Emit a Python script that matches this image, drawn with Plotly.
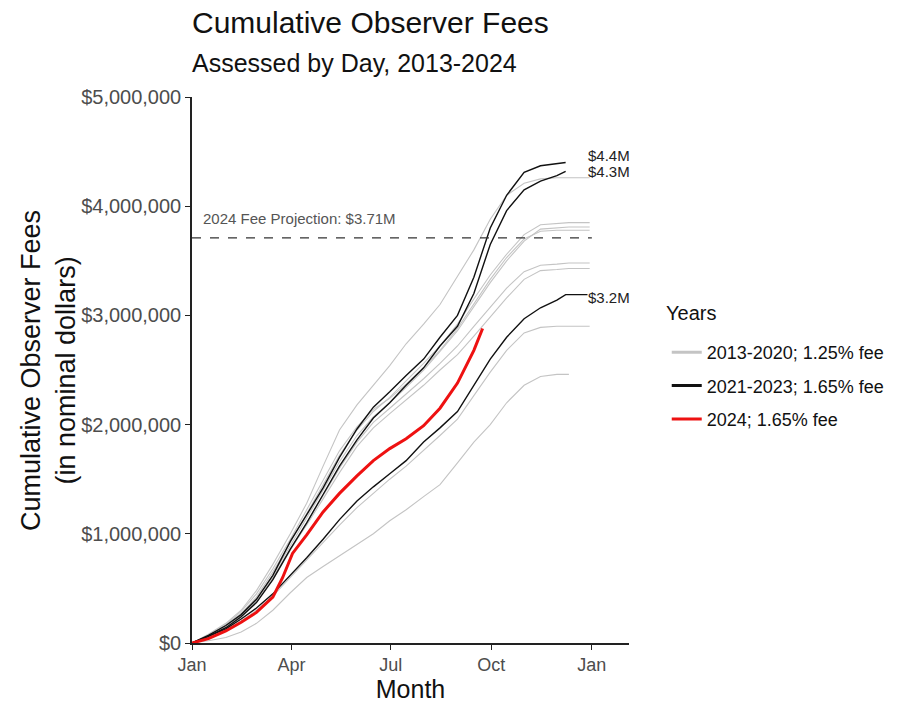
import plotly.graph_objects as go

# Day of year (2024 calendar used as common axis) and cumulative fees (millions of dollars)
days = [0, 15, 31, 45, 59, 74, 90, 105, 120, 135, 151, 166, 181, 196, 212, 227, 243, 258, 273, 288, 304, 319, 334, 345, 364]

gray_series = {
    "g1": [0, 0.08, 0.18, 0.30, 0.48, 0.72, 1.00, 1.28, 1.62, 1.95, 2.18, 2.36, 2.54, 2.74, 2.92, 3.10, 3.36, 3.60, 3.88, 4.10, 4.21, 4.25, 4.26, 4.26, 4.26],
    "g2": [0, 0.07, 0.16, 0.27, 0.42, 0.65, 0.92, 1.18, 1.45, 1.72, 1.95, 2.12, 2.25, 2.40, 2.56, 2.72, 2.92, 3.15, 3.37, 3.56, 3.74, 3.83, 3.84, 3.85, 3.85],
    "g3": [0, 0.06, 0.15, 0.26, 0.40, 0.62, 0.89, 1.14, 1.40, 1.66, 1.90, 2.07, 2.20, 2.34, 2.50, 2.67, 2.86, 3.08, 3.30, 3.50, 3.68, 3.79, 3.80, 3.81, 3.81],
    "g4": [0, 0.05, 0.13, 0.24, 0.38, 0.58, 0.85, 1.10, 1.35, 1.60, 1.84, 2.02, 2.15, 2.28, 2.42, 2.56, 2.72, 2.90, 3.08, 3.25, 3.40, 3.46, 3.47, 3.48, 3.48],
    "g5": [0, 0.06, 0.14, 0.25, 0.39, 0.60, 0.86, 1.08, 1.32, 1.56, 1.80, 1.97, 2.10, 2.23, 2.36, 2.50, 2.64, 2.81, 2.98, 3.16, 3.33, 3.41, 3.42, 3.43, 3.43],
    "g6": [0, 0.05, 0.12, 0.20, 0.30, 0.43, 0.60, 0.76, 0.92, 1.08, 1.24, 1.37, 1.50, 1.62, 1.76, 1.90, 2.05, 2.27, 2.48, 2.68, 2.84, 2.89, 2.90, 2.90, 2.90],
    "g7": [0, 0.02, 0.05, 0.10, 0.18, 0.30, 0.46, 0.60, 0.70, 0.80, 0.90, 1.00, 1.12, 1.22, 1.34, 1.45, 1.65, 1.84, 2.00, 2.20, 2.36, 2.44, 2.46, 2.46, None],
    "g8": [0, 0.07, 0.17, 0.29, 0.45, 0.68, 0.95, 1.22, 1.50, 1.76, 1.98, 2.14, 2.24, 2.37, 2.52, 2.68, 2.88, 3.10, 3.33, 3.53, 3.70, 3.77, 3.78, 3.78, 3.78],
}

black_days = [0, 15, 31, 45, 59, 74, 90, 105, 120, 135, 151, 166, 181, 196, 212, 227, 243, 258, 273, 288, 304, 319, 334, 342, 362]
black_series = {
    "b1": [0, 0.07, 0.16, 0.26, 0.40, 0.62, 0.93, 1.17, 1.42, 1.70, 1.96, 2.16, 2.30, 2.45, 2.60, 2.80, 3.00, 3.35, 3.80, 4.10, 4.31, 4.37, 4.39, 4.40, None],
    "b2": [0, 0.06, 0.14, 0.24, 0.37, 0.58, 0.86, 1.10, 1.36, 1.62, 1.86, 2.06, 2.20, 2.36, 2.52, 2.72, 2.90, 3.20, 3.65, 3.96, 4.15, 4.23, 4.28, 4.32, None],
    "b3": [0, 0.06, 0.13, 0.22, 0.32, 0.45, 0.62, 0.78, 0.95, 1.13, 1.30, 1.43, 1.55, 1.67, 1.84, 1.97, 2.12, 2.36, 2.60, 2.80, 2.97, 3.07, 3.14, 3.19, 3.19],
}
black_labels = {"b1": "$4.4M", "b2": "$4.3M", "b3": "$3.2M"}
black_label_values = {"b1": 4.40, "b2": 4.32, "b3": 3.19}

red_days = [0, 15, 31, 45, 59, 74, 83, 92, 105, 120, 135, 151, 166, 181, 196, 212, 227, 243, 258, 266]
red_values = [0, 0.04, 0.11, 0.19, 0.28, 0.42, 0.60, 0.82, 0.99, 1.20, 1.37, 1.53, 1.67, 1.78, 1.87, 1.99, 2.15, 2.38, 2.68, 2.88]

projection = 3.71e6
tick_days = [0, 91, 182, 274, 366]
tick_labels = ["Jan", "Apr", "Jul", "Oct", "Jan"]
y_ticks = [0, 1e6, 2e6, 3e6, 4e6, 5e6]
y_tick_labels = ["$0", "$1,000,000", "$2,000,000", "$3,000,000", "$4,000,000", "$5,000,000"]
legend_names = ["2013-2020; 1.25% fee", "2021-2023; 1.65% fee", "2024; 1.65% fee"]

GRAY = "#c4c4c4"
FONT = "Liberation Sans, Arial, sans-serif"

fig = go.Figure()

for name, vals in gray_series.items():
    fig.add_trace(go.Scatter(x=days, y=[v * 1e6 if v is not None else None for v in vals],
                             mode="lines", line=dict(color=GRAY, width=1.1),
                             showlegend=False, hoverinfo="skip"))

fig.add_shape(type="line", x0=0, x1=366, y0=projection, y1=projection,
              line=dict(color="#333333", width=1.2, dash="dash"), layer="above")

for name, vals in black_series.items():
    fig.add_trace(go.Scatter(x=black_days, y=[v * 1e6 if v is not None else None for v in vals],
                             mode="lines", line=dict(color="#111111", width=1.4),
                             showlegend=False, hoverinfo="skip"))

fig.add_trace(go.Scatter(x=red_days, y=[v * 1e6 for v in red_values], mode="lines",
                         line=dict(color="#ee1111", width=3), showlegend=False, hoverinfo="skip"))

# legend entries
for nm, col, grp in zip(legend_names, [GRAY, "#111111", "#ee1111"], ["a", "b", "c"]):
    fig.add_trace(go.Scatter(x=[None], y=[None], mode="lines", name=nm, legendgroup=grp,
                             line=dict(color=col, width=3)))

# end labels
label_shift = {"b1": 7, "b2": 0, "b3": -3}
for name in black_series:
    fig.add_annotation(x=361, y=black_label_values[name] * 1e6, yshift=label_shift[name], text=black_labels[name],
                       showarrow=False, xanchor="left", yanchor="middle",
                       font=dict(family=FONT, size=15, color="#222222"))

fig.add_annotation(x=8, y=projection, text="2024 Fee Projection: $3.71M", showarrow=False,
                   xanchor="left", yanchor="bottom", yshift=9,
                   font=dict(family=FONT, size=15, color="#555555"))

PLOT_TOP, PLOT_H, PLOT_L, PLOT_W = 97, 546, 192, 440


def py(page_y):
    return (PLOT_TOP + PLOT_H - page_y) / PLOT_H


def px(page_x):
    return (page_x - PLOT_L) / PLOT_W


# title / subtitle / axis title / legend heading
fig.add_annotation(xref="paper", yref="paper", x=px(190), y=py(22), xanchor="left", yanchor="middle",
                   text="Cumulative Observer Fees", showarrow=False,
                   font=dict(family=FONT, size=30, color="#111111"))
fig.add_annotation(xref="paper", yref="paper", x=px(190), y=py(63), xanchor="left", yanchor="middle",
                   text="Assessed by Day, 2013-2024", showarrow=False,
                   font=dict(family=FONT, size=25, color="#111111"))
fig.add_annotation(xref="paper", yref="paper", x=px(47), y=0.5, xanchor="center", yanchor="middle",
                   textangle=-90, text="Cumulative Observer Fees<br>(in nominal dollars)", showarrow=False,
                   font=dict(family=FONT, size=27, color="#111111"))
fig.add_annotation(xref="paper", yref="paper", x=px(667), y=py(313), xanchor="left", yanchor="middle",
                   text="Years", showarrow=False,
                   font=dict(family=FONT, size=20, color="#111111"))

fig.update_layout(
    width=902, height=709,
    margin=dict(l=PLOT_L, r=902 - PLOT_L - PLOT_W, t=PLOT_TOP, b=709 - PLOT_TOP - PLOT_H),
    paper_bgcolor="white", plot_bgcolor="white",
    font=dict(family=FONT, color="#4d4d4d"),
    legend=dict(x=px(670), y=py(334), xanchor="left", yanchor="top",
                font=dict(size=18, color="#111111"), tracegroupgap=7,
                itemwidth=30, bgcolor="rgba(0,0,0,0)"),
    xaxis=dict(range=[0, 400], tickvals=tick_days, ticktext=tick_labels,
               showgrid=False, zeroline=False, showline=True, linecolor="#222222", linewidth=1.5,
               ticks="outside", ticklen=5, tickcolor="#222222", tickwidth=1.3,
               tickfont=dict(size=18, color="#4d4d4d"), automargin=False,
               title=dict(text="Month", font=dict(size=25, color="#111111"), standoff=4)),
    yaxis=dict(range=[0, 5.0e6], tickvals=y_ticks, ticktext=y_tick_labels,
               showgrid=False, zeroline=False, showline=True, linecolor="#222222", linewidth=1.5,
               ticks="outside", ticklen=5, tickcolor="#222222", tickwidth=1.3,
               tickfont=dict(size=20, color="#4d4d4d"), automargin=False),
)

fig.write_html("out.html", config={"displayModeBar": False},
               post_script="document.body.style.margin='0px';")
